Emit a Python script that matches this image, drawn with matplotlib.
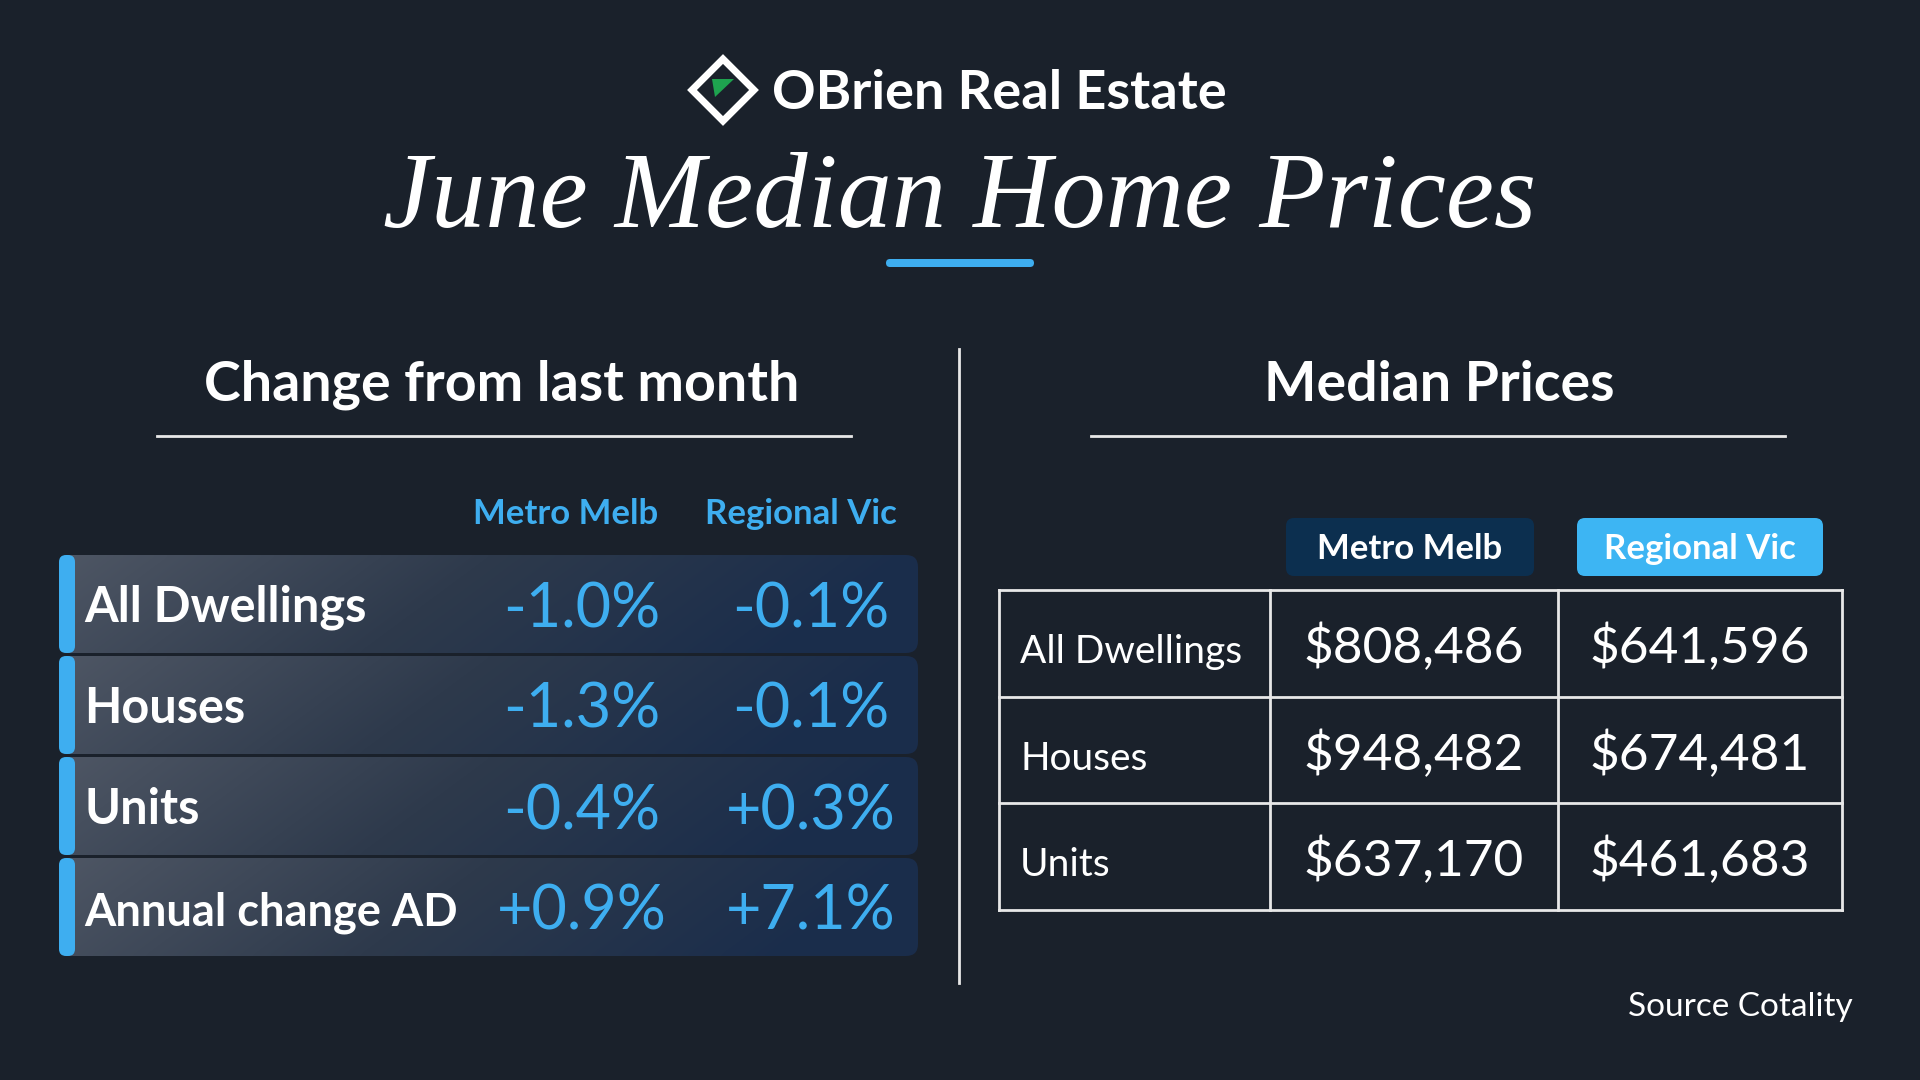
import numpy as np
import matplotlib
matplotlib.use('Agg')
import matplotlib.pyplot as plt
from matplotlib.patches import FancyBboxPatch, Polygon

# ---- data ----
brand = 'OBrien Real Estate'
title = 'June Median Home Prices'
left_heading = 'Change from last month'
right_heading = 'Median Prices'
regions = ['Metro Melb', 'Regional Vic']

change_labels = ['All Dwellings', 'Houses', 'Units', 'Annual change AD']
change_metro = [-1.0, -1.3, -0.4, 0.9]
change_regional = [-0.1, -0.1, 0.3, 7.1]

price_labels = ['All Dwellings', 'Houses', 'Units']
price_metro = [808486, 948482, 637170]
price_regional = [641596, 674481, 461683]

source = 'Source Cotality'

BG = '#1a212b'
BLUE = '#3eaef0'
WHITE = '#ffffff'
SANS = ['Lato', 'DejaVu Sans']

W, H = 1920, 1080
fig = plt.figure(figsize=(W / 100, H / 100), dpi=100, facecolor=BG)
ax = fig.add_axes([0, 0, 1, 1])
ax.set_xlim(0, W)
ax.set_ylim(H, 0)
ax.axis('off')
ax.set_facecolor(BG)


def txt(x, y, s, size, color=WHITE, weight='normal', ha='center', va='baseline', **kw):
    ax.text(x, y, s, fontsize=size, color=color, fontweight=weight, ha=ha, va=va,
            family=kw.pop('family', SANS), **kw)


# ---- header ----
cx, cy, r = 723, 90, 31
ax.add_patch(Polygon([(cx, cy - r), (cx + r, cy), (cx, cy + r), (cx - r, cy)], closed=True,
                     fill=False, ec=WHITE, lw=5, joinstyle='miter'))
ax.add_patch(Polygon([(712, 79), (734, 79), (715, 97)], closed=True, fc='#1ea34f', ec='none'))
txt(772, 109, brand, 39, weight='bold', ha='left')

txt(960, 227, title, 78, style='italic', family=['Liberation Serif', 'DejaVu Serif'])
ax.add_patch(FancyBboxPatch((886, 259), 148, 8, boxstyle='round,pad=0,rounding_size=4',
                            fc=BLUE, ec='none'))

# ---- section headings ----
txt(502, 401, left_heading, 40, weight='bold')
ax.plot([157, 851], [436, 436], color='#e8e8e8', lw=2)
txt(1439, 401, right_heading, 40, weight='bold')
ax.plot([1091, 1785], [436, 436], color='#e8e8e8', lw=2)
ax.plot([959, 959], [349, 983], color='#e8e8e8', lw=2)

# ---- left panel: change rows ----
head_x = [566, 801]
val_x = [582, 811]
for x, name in zip(head_x, regions):
    txt(x, 524, name, 25, color=BLUE, weight='bold')

row_top, row_h, row_gap = 555, 98, 3
x0, x1 = 59, 918
grad = np.linspace(0, 1, 256)[None, :] * np.ones((32, 1))
grad = np.clip(grad + np.linspace(0, 0.15, 32)[:, None], 0, 1)
cmap = matplotlib.colors.LinearSegmentedColormap.from_list('rowgrad', ['#4e5664', '#2e3a4c', '#1a2d4b'])


def fmt_change(v):
    return ('+' if v > 0 else '-') + f'{abs(v):.1f}%'


for i, (lab, m, rg) in enumerate(zip(change_labels, change_metro, change_regional)):
    top = row_top + i * (row_h + row_gap)
    box = FancyBboxPatch((x0, top), x1 - x0, row_h, boxstyle='round,pad=0,rounding_size=12',
                         fc='none', ec='none')
    ax.add_patch(box)
    im = ax.imshow(grad, cmap=cmap, extent=(x0, x1, top + row_h, top), aspect='auto',
                   interpolation='bicubic', zorder=1)
    im.set_clip_path(box)
    ax.add_patch(FancyBboxPatch((x0, top), 16, row_h, boxstyle='round,pad=0,rounding_size=7',
                                fc=BLUE, ec='none', zorder=2))
    mid = top + row_h / 2
    txt(84, mid + 18, lab, 35 if i < 3 else 32.5, weight='bold', ha='left', zorder=3)
    txt(val_x[0], mid + 23, fmt_change(m), 44, color=BLUE, zorder=3)
    txt(val_x[1], mid + 23, fmt_change(rg), 44, color=BLUE, zorder=3)

# ---- right panel: price table ----
pill_x = [(1286, 1534, '#0c2f4f'), (1577, 1823, '#3db5f3')]
for (a, b, c), name in zip(pill_x, regions):
    ax.add_patch(FancyBboxPatch((a, 518), b - a, 58, boxstyle='round,pad=0,rounding_size=8',
                                fc=c, ec='none'))
    txt((a + b) / 2, 559, name, 25, weight='bold')

gx = [999, 1270, 1558, 1842]
gy = [590, 697, 803, 910]
for x in gx:
    ax.plot([x, x], [gy[0], gy[-1]], color='#e8e8e8', lw=2)
for y in gy:
    ax.plot([gx[0], gx[-1]], [y, y], color='#e8e8e8', lw=2)

for i, (lab, m, rg) in enumerate(zip(price_labels, price_metro, price_regional)):
    mid = (gy[i] + gy[i + 1]) / 2
    txt(1020, mid + 20, lab, 28, ha='left')
    txt((gx[1] + gx[2]) / 2, mid + 20, f'${m:,}', 37)
    txt((gx[2] + gx[3]) / 2, mid + 20, f'${rg:,}', 37)

txt(1853, 1016, source, 24, ha='right')

fig.savefig('out.png', dpi=100, facecolor=BG)
